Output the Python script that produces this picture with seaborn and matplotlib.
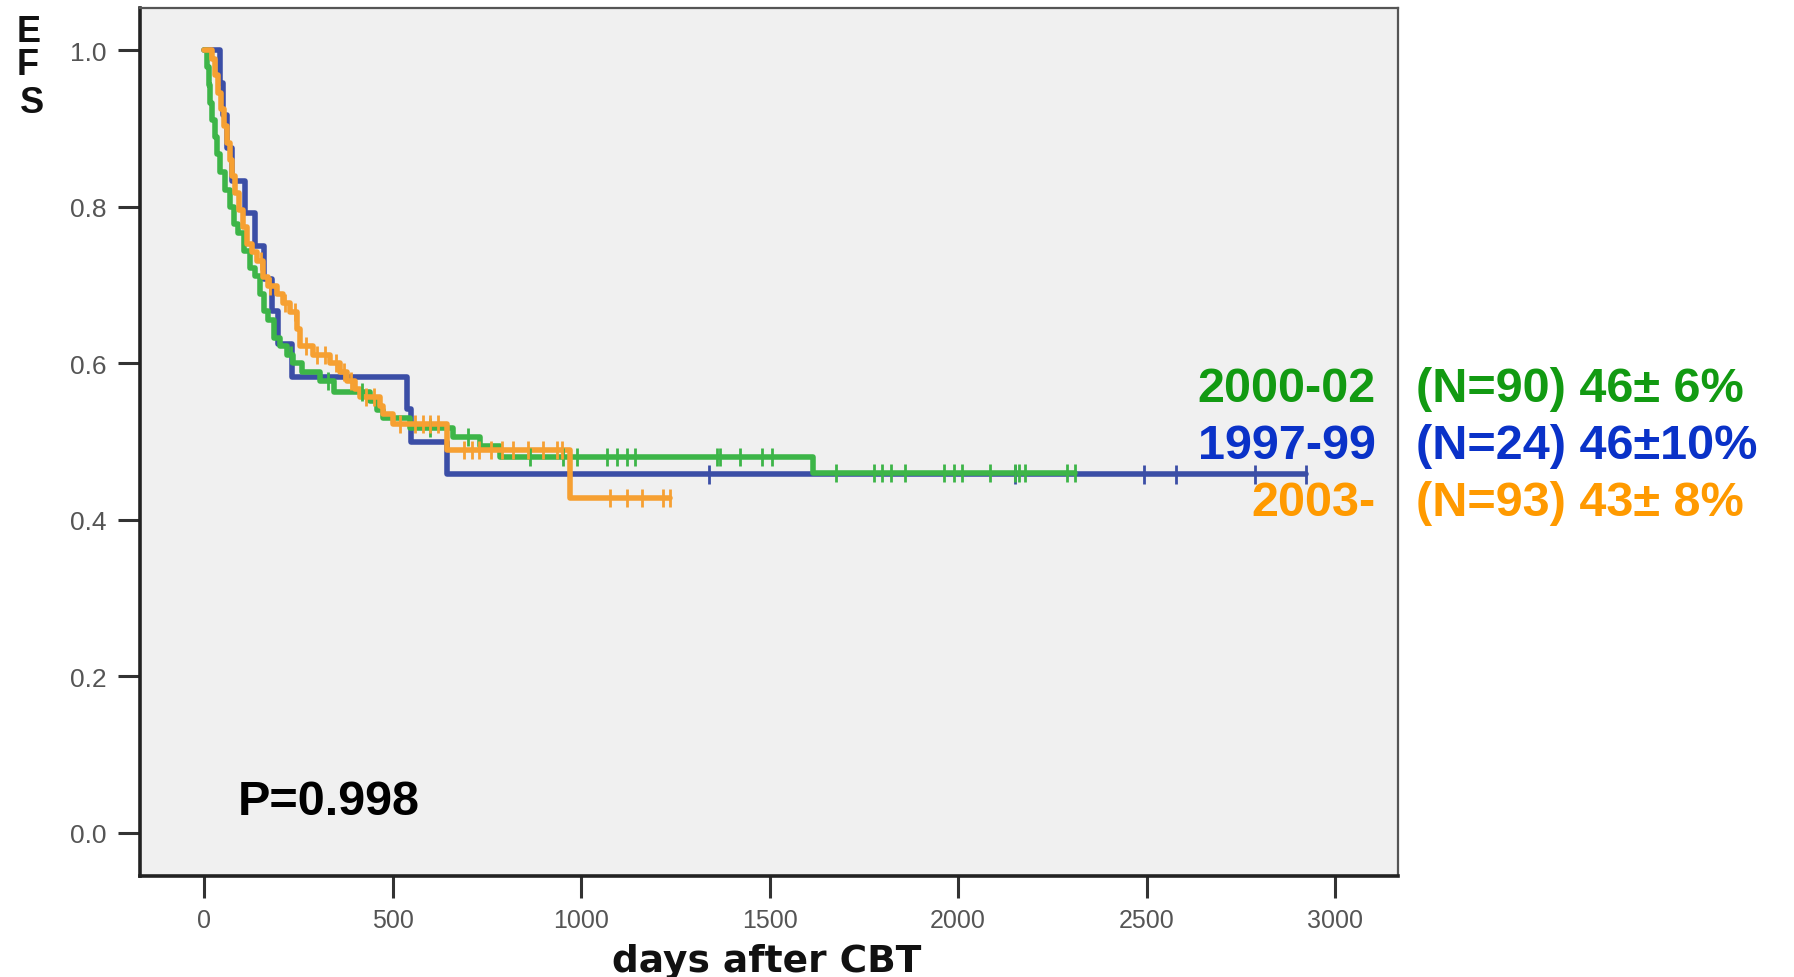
import numpy as np
import pandas as pd
import matplotlib
matplotlib.use("Agg")
import matplotlib.pyplot as plt
import seaborn as sns

# ---------------- data ----------------
groups = ["1997-99", "2000-02", "2003-"]

# step times (days) and survival after each step
blue_t = [0, 42, 50, 60, 75, 109, 135, 160, 180, 197, 233, 538, 550, 645]
blue_s = [1.0, .958, .917, .875, .833, .792, .750, .708, .667, .625, .583, .542, .500, .458]
blue_end = 2923
blue_c = [1340, 2150, 2492, 2578, 2787, 2923]

green_t = [0, 8, 12, 16, 22, 28, 35, 42, 55, 68, 80, 90, 105, 122, 135, 149, 160, 170,
           185, 202, 220, 236, 260, 308, 345, 440, 458, 475, 546, 660, 732, 785, 1614]
green_s = [1.0, .978, .956, .933, .911, .889, .867, .844, .822, .800, .778, .767, .744,
           .722, .711, .689, .667, .656, .633, .622, .611, .600, .589, .578, .563, .552,
           .541, .530, .518, .506, .495, .480, .460]
green_end = 2310
green_c = [230, 330, 420, 600, 700, 865, 952, 989, 1069, 1095, 1122, 1143, 1361, 1369,
           1422, 1480, 1507, 1675, 1777, 1797, 1822, 1858, 1964, 1990, 2010, 2086, 2152,
           2162, 2178, 2289, 2310]

orange_t = [0, 21, 30, 38, 45, 52, 60, 68, 74, 82, 92, 104, 115, 128, 140, 155, 170, 193,
            210, 228, 247, 255, 290, 334, 360, 379, 400, 414, 467, 475, 500, 645, 971]
orange_s = [1.0, .989, .968, .946, .925, .903, .882, .860, .839, .817, .796, .774, .753,
            .742, .731, .710, .699, .688, .677, .666, .644, .622, .611, .600, .589, .578,
            .567, .557, .546, .535, .522, .489, .428]
orange_end = 1236
orange_c = [150, 175, 215, 240, 270, 300, 320, 350, 370, 390, 430, 450, 520, 560, 580, 600,
            620, 690, 710, 730, 760, 790, 820, 860, 900, 935, 950, 1077, 1122, 1162, 1218, 1236]

legend_years = ["2000-02", "1997-99", "2003-"]
legend_stats = ["(N=90) 46\u00b1 6%", "(N=24) 46\u00b110%", "(N=93) 43\u00b1 8%"]
p_text = "P=0.998"
x_ticks = [0, 500, 1000, 1500, 2000, 2500, 3000]
y_ticks = [0.0, 0.2, 0.4, 0.6, 0.8, 1.0]
x_label = "days after CBT"
y_label = "EFS"

# ---------------- styling ----------------
line_colors = {"1997-99": "#3B4EA6", "2000-02": "#3DB548", "2003-": "#F6A032"}
text_colors = {"2000-02": "#129A12", "1997-99": "#0A32C8", "2003-": "#FF9A00"}
SANS = ["Liberation Sans", "DejaVu Sans"]

sns.set_theme(style="white")
plt.rcParams["font.family"] = SANS

# ---------------- build tables ----------------
series = {"1997-99": (blue_t, blue_s, blue_end, blue_c),
          "2000-02": (green_t, green_s, green_end, green_c),
          "2003-": (orange_t, orange_s, orange_end, orange_c)}
line_rows, cens_rows = [], []
for g in groups:
    t, s, end, c = series[g]
    for ti, si in zip(list(t) + [end], list(s) + [s[-1]]):
        line_rows.append((g, ti, si))
    idx = np.searchsorted(np.asarray(t), np.asarray(c), side="right") - 1
    for ci, k in zip(c, idx):
        cens_rows.append((g, ci, s[k]))
lines = pd.DataFrame(line_rows, columns=["group", "days", "efs"])
cens = pd.DataFrame(cens_rows, columns=["group", "days", "efs"])

# ---------------- figure ----------------
W, H = 1794, 978
fig = plt.figure(figsize=(W / 100, H / 100), dpi=100)
fig.patch.set_facecolor("white")
ax = fig.add_axes([140 / W, 1 - 877 / H, (1398 - 140) / W, (877 - 9) / H])
ax.set_facecolor("#F0F0F0")

sns.lineplot(data=lines, x="days", y="efs", hue="group", hue_order=groups,
             palette=line_colors, estimator=None, sort=False, drawstyle="steps-post",
             linewidth=4.0, legend=False, ax=ax)
sns.scatterplot(data=cens, x="days", y="efs", hue="group", hue_order=groups,
                palette=line_colors, marker="|", s=170, linewidth=2.0,
                legend=False, ax=ax, zorder=3)

ax.set_xlim(-170, 3167)
ax.set_ylim(-0.055, 1.054)
ax.set_xticks(x_ticks)
ax.set_xticklabels([str(v) for v in x_ticks], fontsize=18, color="#555555")
ax.set_yticks(y_ticks)
ax.set_yticklabels([f"{v:.1f}" for v in y_ticks], fontsize=19, color="#555555")
ax.tick_params(axis="both", which="major", bottom=True, left=True, direction="out",
               length=16, width=2.2, color="#333333", pad=8)
ax.tick_params(axis="x", length=16, pad=7)

for side in ["left", "bottom"]:
    ax.spines[side].set_color("#222222")
    ax.spines[side].set_linewidth(2.6)
for side in ["top", "right"]:
    ax.spines[side].set_color("#555555")
    ax.spines[side].set_linewidth(1.6)
    ax.spines[side].set_visible(True)

ax.set_ylabel("")
ax.set_xlabel(x_label, fontsize=27, fontweight="bold", family=["DejaVu Sans"], color="#111111")
ax.xaxis.label.set_va("baseline")
ax.xaxis.set_label_coords((767 - 140) / 1258, (877 - 972) / 868)

# stacked y label letters
for ch, (cx, by) in zip(y_label, [(29, 42), (28, 75), (32, 113)]):
    fig.text(cx / W, 1 - by / H, ch, ha="center", va="baseline", fontsize=26,
             fontweight="bold", family=SANS, color="#111111")

# P value
fig.text(238 / W, 1 - 815 / H, p_text, ha="left", va="baseline", fontsize=35,
         fontweight="bold", family=SANS, color="black")

# right-hand legend text
for i, (yr, st) in enumerate(zip(legend_years, legend_stats)):
    base = 402 + 57 * i
    fig.text(1376 / W, 1 - base / H, yr, ha="right", va="baseline", fontsize=35,
             fontweight="bold", family=SANS, color=text_colors[yr])
    fig.text(1416 / W, 1 - base / H, st, ha="left", va="baseline", fontsize=35,
             fontweight="bold", family=SANS, color=text_colors[yr])

fig.savefig("out.png", dpi=100, facecolor="white")
